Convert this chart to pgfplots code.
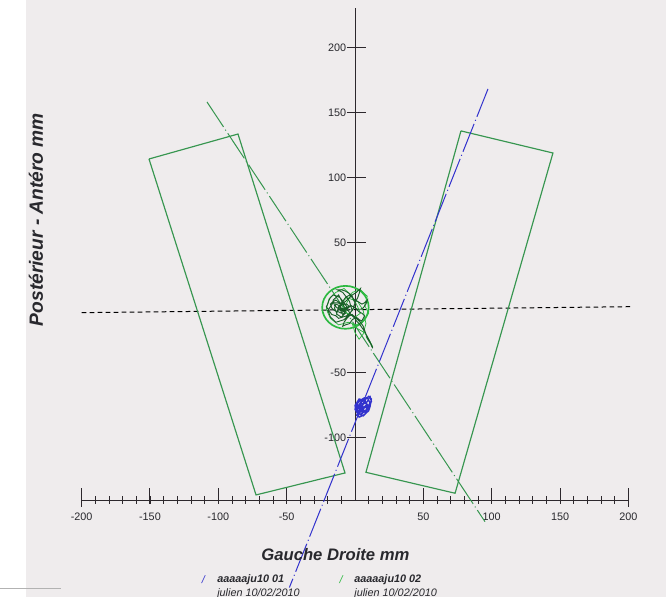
\documentclass[border=0pt]{standalone}
\usepackage{pgfplots}
\pgfplotsset{compat=1.18}
\usepackage{fontspec}
\setmainfont{Liberation Sans}
\definecolor{bg}{RGB}{239,236,237}
\definecolor{rectgreen}{RGB}{55,150,80}
\definecolor{ringgreen}{RGB}{45,185,65}
\definecolor{darkgreen}{RGB}{25,95,40}
\definecolor{myblue}{RGB}{50,50,205}
\definecolor{axgray}{RGB}{45,40,45}
\definecolor{txtgray}{RGB}{40,40,45}
\begin{document}
\begin{tikzpicture}
\begin{axis}[
  at={(0,0)}, anchor=south west,
  scale only axis, width=399.6pt, height=358.2pt,
  xmin=-259.7, xmax=227.5, ymin=-222.3, ymax=236.9,
  hide axis, clip=false,
]
% screen background
\fill[bg] (axis cs:-240.7,-222.3) rectangle (axis cs:227.5,236.9);
\draw[gray!60, line width=0.8pt] (axis cs:-259.7,-215.8) -- (axis cs:-215,-215.8);

% axes
\addplot[axgray, line width=0.6pt] coordinates {(-200,-147.7) (200,-147.7)};
\addplot[axgray, line width=0.6pt] coordinates {(0,-147.7) (0,231)};

% x ticks
\pgfplotsinvokeforeach{-190,-180,...,-10}{\draw[axgray, line width=0.5pt] (axis cs:#1,-150.4) -- (axis cs:#1,-145);}
\pgfplotsinvokeforeach{10,20,...,190}{\draw[axgray, line width=0.5pt] (axis cs:#1,-150.4) -- (axis cs:#1,-145);}
\pgfplotsinvokeforeach{-150,-100,-50,50,100,150}{\draw[axgray, line width=0.6pt] (axis cs:#1,-150.4) -- (axis cs:#1,-138.5);
  \node[txtgray, font=\fontsize{6.5}{7}\selectfont, inner sep=0pt] at (axis cs:#1,-160.8) {#1};}
\pgfplotsinvokeforeach{-200,200}{\draw[axgray, line width=0.6pt] (axis cs:#1,-153) -- (axis cs:#1,-138.5);
  \node[txtgray, font=\fontsize{6.5}{7}\selectfont, inner sep=0pt] at (axis cs:#1,-160.8) {#1};}
% y ticks
\pgfplotsinvokeforeach{200,150,100,50,-50,-100}{\draw[axgray, line width=0.6pt] (axis cs:-5.9,#1) -- (axis cs:8,#1);
  \node[txtgray, font=\fontsize{6.5}{7}\selectfont, anchor=east, inner sep=0.3pt] at (axis cs:-5.9,#1) {#1};}

% horizontal dashed line
\addplot[black, line width=0.6pt, dash pattern=on 2.8pt off 2pt] coordinates {(-200,-3.6) (203,1)};

% feet rectangles
\addplot[rectgreen, line width=0.7pt] coordinates {(-150.7,114.6) (-85.6,133.8) (-7.3,-126.9) (-72.4,-143.8) (-150.7,114.6)};
\addplot[rectgreen, line width=0.7pt] coordinates {(77.5,136.2) (144.8,119.2) (73.2,-142.5) (8.0,-126.4) (77.5,136.2)};

% axis lines of the feet
\addplot[rectgreen, line width=0.6pt, dash pattern=on 18pt off 2pt on 0.6pt off 2pt] coordinates {(-108.3,158.5) (95.1,-164.4)};
\addplot[myblue, line width=0.6pt, dash pattern=on 18pt off 2pt on 0.6pt off 2pt] coordinates {(97.3,168.5) (-48,-215)};

% confidence ring
\draw[ringgreen, line width=1pt] (axis cs:-7,0.5) ellipse [x radius=17, y radius=16.5];

% green trajectory (light)
\addplot[ringgreen, line width=0.45pt] coordinates {
(-7,2) (-2,12) (4,14) (9,9) (7,2) (10,-4) (6,-10) (1,-13) (-5,-11) (-12,-13) (-18,-8) (-21,-1) (-19,7) (-14,12) (-8,15) (-3,10) (1,3) (4,-4) (0,-7) (-6,-4) (-10,4) (-6,8) (2,5) (6,-2) (8,-12) (6,-20) (3,-24) (0,-19) (-2,-12)
(2,-16) (7,-19) (10,-24) (13,-30) (11,-27) (8,-22)
};
% green trajectory (dark core)
\addplot[darkgreen, line width=0.55pt] coordinates {
(-8,2) (-11,4) (-14,6) (-16,5) (-18,3) (-17,0) (-15,-2) (-12,-3) (-10,-4) (-8,-2) (-6,1) (-8,4) (-11,8) (-13,9) (-16,10) (-18,8) (-19,6) (-20,3) (-21,1) (-19,-2) (-17,-5) (-14,-6) (-12,-8) (-9,-7) (-6,-6) (-4,-4) (-2,-2) (-3,1) (-4,5) (-6,8) (-9,12) (-11,13) (-13,14) (-10,14) (-7,13) (-4,11) (-2,9) (-1,6) (0,4) (-1,0) (-3,-3) (-5,-6) (-8,-9) (-11,-10) (-14,-11) (-16,-9) (-18,-7) (-19,-4) (-20,-2) (-18,1) (-16,4) (-13,4) (-10,3) (-7,5) (-5,7) (-2,10) (1,12) (3,14) (4,15) (3,11) (2,8) (0,4) (-1,1) (1,-1) (3,-3) (5,-4) (7,-6) (6,-8) (5,-10) (3,-9) (1,-7) (-2,-9) (-4,-12) (-7,-13) (-9,-14) (-8,-11) (-6,-8) (-4,-6) (-2,-5) (0,-7) (2,-9)
(4,-11) (6,-14) (7,-17) (8,-20) (9,-23) (10,-25) (12,-28) (13,-31) (12,-29) (11,-26) (9,-22) (7,-18) (5,-15) (3,-12) (1,-10) (0,-8) (-3,-5) (-5,-2) (-8,-1) (-10,0) (-12,-1) (-13,-3) (-12,1) (-9,5) (-7,8) (-4,10) (-2,8) (0,6) (2,5) (5,3) (7,4) (9,6) (8,3) (6,0) (4,-1) (2,-1) (0,0) (-3,2) (-5,1) (-8,-1) (-10,-2) (-12,2) (-14,3) (-15,0) (-13,-5) (-10,-7) (-7,-4) (-9,-2) (-11,1) (-9,3) (-6,3) (-4,1) (-6,-1) (-8,1) (-10,6) (-12,10) (-14,8) (-16,6) (-15,2) (-13,0) (-11,-1) (-9,-5) (-7,-3) (-8,0)
};
% blue trajectory
\addplot[myblue, line width=0.8pt] coordinates {
(2,-78) (5,-72) (9,-69) (11,-73) (8,-79) (4,-82) (1,-80) (0,-75) (3,-70) (7,-71) (10,-76) (7,-82) (3,-84) (1,-79) (4,-74) (8,-73) (9,-78) (5,-80) (2,-76) (6,-70) (11,-68) (12,-72) (9,-77) (6,-76) (3,-79) (1,-83) (4,-78)
(6,-74) (9,-72) (10,-70) (7,-69) (4,-71) (2,-73) (1,-77) (3,-81) (6,-83) (8,-81) (10,-79) (11,-76) (12,-70) (10,-68) (8,-70) (5,-75) (3,-77) (5,-78) (7,-76) (8,-75) (6,-78) (4,-80) (2,-81) (0,-78) (1,-74) (3,-72)
};

% labels
\node[txtgray, rotate=90, font=\bfseries\itshape\fontsize{11.5}{13}\selectfont] at (axis cs:-233.4,68) {Postérieur - Antéro mm};
\node[txtgray, font=\bfseries\itshape\fontsize{10}{12}\selectfont] at (axis cs:-14.3,-189.5) {Gauche Droite mm};

% legend
\node[myblue, font=\itshape\fontsize{6.5}{7}\selectfont] at (axis cs:-111,-209.2) {/};
\node[txtgray, anchor=west, inner sep=0pt, font=\bfseries\itshape\fontsize{6.5}{7}\selectfont] at (axis cs:-101,-209.2) {aaaaaju10 01};
\node[txtgray, anchor=west, inner sep=0pt, font=\itshape\fontsize{6.5}{7}\selectfont] at (axis cs:-101,-219.8) {julien 10/02/2010};
\node[ringgreen, font=\itshape\fontsize{6.5}{7}\selectfont] at (axis cs:-10.2,-209.2) {/};
\node[txtgray, anchor=west, inner sep=0pt, font=\bfseries\itshape\fontsize{6.5}{7}\selectfont] at (axis cs:-0.7,-209.2) {aaaaaju10 02};
\node[txtgray, anchor=west, inner sep=0pt, font=\itshape\fontsize{6.5}{7}\selectfont] at (axis cs:-0.7,-219.8) {julien 10/02/2010};
\end{axis}
\pgfresetboundingbox
\path (0,0) rectangle (399.6pt,358.2pt);
\end{tikzpicture}
\end{document}
